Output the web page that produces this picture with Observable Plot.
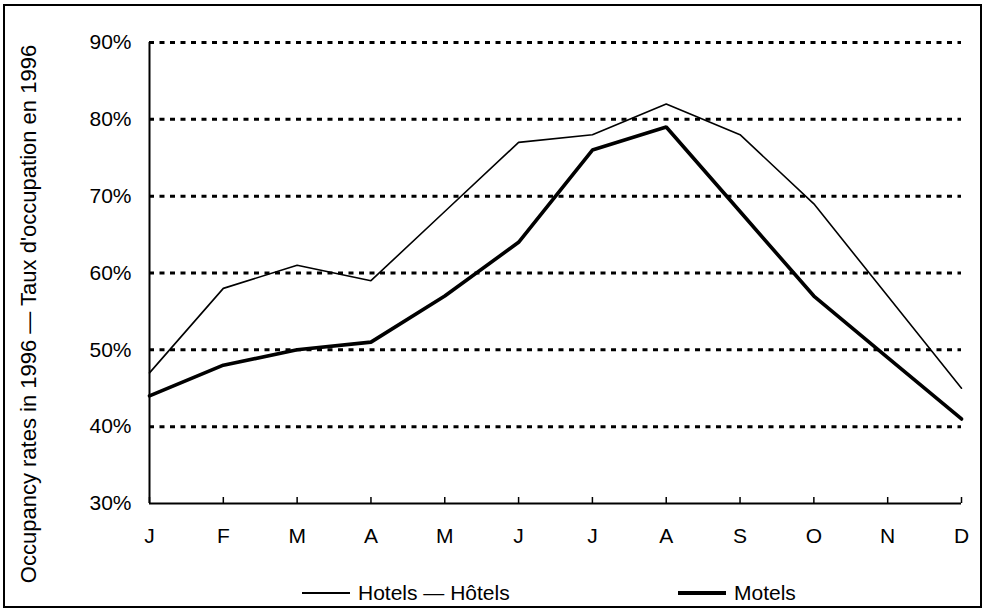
<!DOCTYPE html>
<html><head><meta charset="utf-8">
<script src="https://cdn.jsdelivr.net/npm/d3@7"></script>
<script src="https://cdn.jsdelivr.net/npm/@observablehq/plot@0.6"></script>
<style>
body{margin:0;background:#fff;font-family:"Liberation Sans",Arial,sans-serif;}
#frame{position:absolute;left:3px;top:4px;width:975px;height:600px;border:2px solid #000;overflow:hidden;background:#fff}
#chart svg{display:block}
.leg{position:absolute;top:574px;height:26px;display:flex;align-items:center;font-size:21px;color:#000;white-space:nowrap}
.sw{display:inline-block;width:48px;background:#000;margin-right:8px}
</style></head><body>
<div id="frame"><div id="chart"></div>
<div class="leg" style="left:297px"><span class="sw" style="height:1.5px"></span>Hotels — Hôtels</div>
<div class="leg" style="left:673px"><span class="sw" style="height:4px"></span>Motels</div>
</div>
<script>
const months = ["J","F","M","A","M","J","J","A","S","O","N","D"];
const hotels = [47,58,61,59,68,77,78,82,78,69,57,45];
const motels = [44,48,50,51,57,64,76,79,68,57,49,41];
const yTicks = [30,40,50,60,70,80,90];
const gridValues = [40,50,60,70,80,90];
const yLabel = "Occupancy rates in 1996 — Taux d'occupation en 1996";

const idx = months.map((_, i) => i);
const rows = idx.map(i => ({i, month: months[i], hotels: hotels[i], motels: motels[i]}));

const chart = Plot.plot({
  width: 975,
  height: 560,
  marginLeft: 144,
  marginRight: 19,
  marginTop: 36,
  marginBottom: 63,
  style: {fontFamily: '"Liberation Sans", Arial, sans-serif', fontSize: "21px", color: "#000", background: "transparent", overflow: "visible"},
  x: {domain: [0, 11], ticks: idx, tickFormat: i => months[i], tickSize: 0, tickPadding: 25, label: null},
  y: {domain: [30, 90], ticks: yTicks, tickFormat: d => d + "%", tickSize: 0, tickPadding: 18, label: null},
  marks: [
    Plot.ruleY(gridValues, {stroke: "#000", strokeWidth: 3, strokeDasharray: "5,5.5"}),
    Plot.ruleX([0], {stroke: "#000", strokeWidth: 2}),
    Plot.ruleY([30], {stroke: "#000", strokeWidth: 2}),
    Plot.ruleX(idx, {x: d => d, y1: 30, y2: 30, insetTop: -6, stroke: "#000", strokeWidth: 1.5}),
    Plot.line(rows, {x: "i", y: "hotels", stroke: "#000", strokeWidth: 1.6, strokeLinejoin: "miter"}),
    Plot.line(rows, {x: "i", y: "motels", stroke: "#000", strokeWidth: 3.6, strokeLinejoin: "miter"}),
    Plot.text([yLabel], {text: d => d, frameAnchor: "left", rotate: -90, textAnchor: "middle", lineAnchor: "top", dx: -129, dy: 41, fontSize: 22, fill: "#000"})
  ]
});
document.getElementById("chart").appendChild(chart);
</script>
</body></html>
